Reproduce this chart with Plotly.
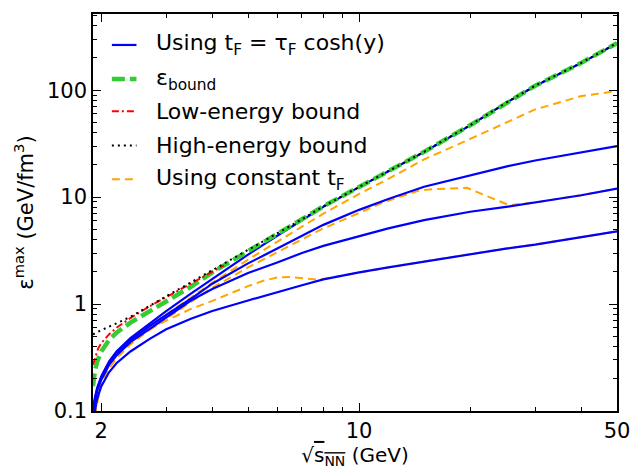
import numpy as np
import plotly.graph_objects as go

# Collision energy sqrt(s_NN) in GeV
x_grid = [1.9, 1.92, 1.95, 2.0, 2.1, 2.2, 2.4, 2.7, 3.0, 3.5, 4.0, 5.0, 6.0, 7.0,
          8.0, 10, 12, 15, 20, 25, 30, 40, 50]

# Combined energy-density bound
eps_bound = [0.17, 0.23, 0.29, 0.36, 0.46, 0.54, 0.67, 0.85, 1.06, 1.45, 1.98, 3.1,
             4.5, 6.2, 8.2, 12.5, 17.5, 26.5, 47, 76, 110, 180, 275]

# Low-energy bound
x_low = [1.9, 1.93, 1.96, 2.0, 2.1, 2.2, 2.4, 2.7, 3.0, 3.5, 4.0, 4.3]
eps_low = [0.27, 0.33, 0.38, 0.43, 0.52, 0.60, 0.74, 0.95, 1.16, 1.56, 2.0, 2.3]

# High-energy bound
x_high = [1.9, 2.0, 2.2, 2.4, 2.7, 3.0, 3.5, 4.0, 5.0, 6.0, 7.0, 8.0, 10, 12, 15,
          20, 25, 30, 40, 50]
eps_high = [0.52, 0.57, 0.66, 0.76, 0.96, 1.18, 1.6, 2.08, 3.2, 4.55, 6.2, 8.2,
            12.5, 17.5, 26.5, 47, 76, 110, 180, 275]

# t_F = tau_F cosh(y), four formation times
eps_cosh_1 = [0.10, 0.13, 0.165, 0.21, 0.29, 0.36, 0.48, 0.66, 0.86, 1.25, 1.72, 2.9,
              4.35, 6.05, 8.1, 12.4, 17.4, 26.4, 46.8, 75.8, 109.5, 179, 274]
eps_cosh_2 = [0.095, 0.125, 0.16, 0.205, 0.28, 0.345, 0.46, 0.62, 0.79, 1.12, 1.55,
              2.4, 3.3, 4.3, 5.5, 7.6, 9.6, 12.5, 16.0, 19.3, 22.0, 26.3, 30.0]
eps_cosh_3 = [0.09, 0.12, 0.155, 0.195, 0.27, 0.33, 0.44, 0.58, 0.74, 1.08, 1.38,
              1.95, 2.45, 3.0, 3.5, 4.3, 5.1, 6.1, 7.3, 8.1, 8.9, 10.4, 12.0]
eps_cosh_4 = [0.08, 0.10, 0.13, 0.17, 0.23, 0.28, 0.36, 0.47, 0.58, 0.73, 0.86, 1.08,
              1.3, 1.5, 1.7, 1.98, 2.2, 2.5, 2.95, 3.3, 3.6, 4.2, 4.78]

# Constant t_F
x_const_a = [1.92, 1.95, 2.0, 2.1, 2.2, 2.4, 2.7, 3.0, 3.5, 4.0, 5.0, 6.0, 7.0, 8.0,
             10, 12, 15, 20, 25, 30, 40, 50]
eps_const_a = [0.09, 0.13, 0.19, 0.27, 0.34, 0.46, 0.62, 0.80, 1.15, 1.58, 2.6, 3.85,
               5.3, 7.0, 10.7, 14.8, 22.5, 35, 50, 66, 88, 98]

x_const_b = [1.92, 1.95, 2.0, 2.1, 2.2, 2.4, 2.7, 3.0, 3.5, 4.0, 5.0, 6.0, 7.0, 8.0,
             10, 11.5, 14.5, 16, 19.6, 25.5, 30, 40, 50]
eps_const_b = [0.09, 0.12, 0.18, 0.25, 0.31, 0.42, 0.57, 0.73, 1.04, 1.42, 2.2, 3.05,
               4.0, 5.1, 7.1, 8.8, 11.5, 11.9, 12.2, 8.4, 8.9, 10.4, 12.0]

x_const_c = [1.93, 1.95, 2.0, 2.1, 2.2, 2.5, 3.0, 3.5, 4.0, 5.0, 5.5, 6.0, 6.5, 7.0,
             7.7, 8.5, 10, 12, 15, 20, 25, 30, 40, 50]
eps_const_c = [0.10, 0.14, 0.21, 0.29, 0.35, 0.50, 0.70, 0.90, 1.07, 1.47, 1.65, 1.77,
               1.79, 1.74, 1.69, 1.78, 1.98, 2.2, 2.5, 2.95, 3.3, 3.6, 4.2, 4.78]

# Legend entries: label, colour, width, dash
legend_labels = ["Using t<sub>F</sub> = τ<sub>F</sub> cosh(y)", "ε<sub>bound</sub>",
                 "Low-energy bound", "High-energy bound", "Using constant t<sub>F</sub>"]

FONT = "DejaVu Sans"
BLUE = "#0000ff"
ORANGE = "#ffa500"
GREEN = "#33cc33"
RED = "#ff0000"

STYLE_COSH = dict(color=BLUE, width=2.2, dash="solid")
STYLE_BOUND = dict(color=GREEN, width=4.5, dash="13px,5px")
STYLE_LOW = dict(color=RED, width=2, dash="7px,3px,2px,3px")
STYLE_HIGH = dict(color="black", width=2, dash="2px,4px")
STYLE_CONST = dict(color=ORANGE, width=2, dash="8px,5px")

fig = go.Figure()

# constant-t_F curves first so the solid lines sit on top of them
for xs, ys in [(x_const_a, eps_const_a), (x_const_b, eps_const_b),
               (x_const_c, eps_const_c)]:
    fig.add_trace(go.Scatter(x=xs, y=ys, mode="lines", line=STYLE_CONST,
                             name=legend_labels[4], showlegend=False))

for ys in [eps_cosh_4, eps_cosh_3, eps_cosh_2, eps_cosh_1]:
    fig.add_trace(go.Scatter(x=x_grid, y=ys, mode="lines", line=STYLE_COSH,
                             name=legend_labels[0], showlegend=False))

fig.add_trace(go.Scatter(x=x_grid, y=eps_bound, mode="lines", line=STYLE_BOUND,
                         name=legend_labels[1], showlegend=False))
fig.add_trace(go.Scatter(x=x_low, y=eps_low, mode="lines", line=STYLE_LOW,
                         name=legend_labels[2], showlegend=False))
fig.add_trace(go.Scatter(x=x_high, y=eps_high, mode="lines", line=STYLE_HIGH,
                         name=legend_labels[3], showlegend=False))

# Hand-placed legend in the upper-left corner of the axes
legend_styles = [STYLE_COSH, STYLE_BOUND, STYLE_LOW, STYLE_HIGH, STYLE_CONST]
legend_rows = [0.922, 0.836, 0.755, 0.669, 0.584]
for label, style, yrow in zip(legend_labels, legend_styles, legend_rows):
    fig.add_shape(type="line", xref="paper", yref="paper",
                  x0=0.036, x1=0.083, y0=yrow, y1=yrow, line=style)
    fig.add_annotation(xref="paper", yref="paper", x=0.116, y=yrow,
                       xanchor="left", yanchor="middle", showarrow=False,
                       text=label, font=dict(family=FONT, size=22, color="black"))

axis_common = dict(
    type="log", showline=True, linecolor="black", linewidth=1.5, mirror="ticks",
    ticks="inside", ticklen=8, tickwidth=1.2, tickcolor="black", showgrid=False,
    zeroline=False, tickfont=dict(family=FONT, size=21, color="black"),
)

fig.update_xaxes(
    **axis_common,
    range=[np.log10(1.9), np.log10(50)],
    tickvals=[2, 10, 50], ticktext=["2", "10", "50"],
    minor=dict(ticks="inside", ticklen=4, tickwidth=1, tickcolor="black",
               tickvals=[3, 4, 5, 6, 7, 8, 9, 20, 30, 40], showgrid=False),
    title=dict(text="√<span style='text-decoration:overline'>s<sub>NN</sub></span> (GeV)",
               font=dict(family=FONT, size=20, color="black"), standoff=2),
)

y_minor = [m * 10.0 ** e for e in (-1, 0, 1, 2) for m in range(2, 10) if m * 10.0 ** e < 520]
fig.update_yaxes(
    **axis_common,
    range=[-1, 2.712],
    tickvals=[0.1, 1, 10, 100], ticktext=["0.1", "1", "10", "100"],
    minor=dict(ticks="inside", ticklen=4, tickwidth=1, tickcolor="black",
               tickvals=y_minor, showgrid=False),
    title=dict(text="ε<sup>max</sup> (GeV/fm<sup>3</sup>)",
               font=dict(family=FONT, size=21, color="black"), standoff=8),
)

fig.update_layout(
    width=644, height=471,
    margin=dict(l=93, r=27, t=12, b=59),
    paper_bgcolor="white", plot_bgcolor="white",
    font=dict(family=FONT, size=21, color="black"),
    showlegend=False,
)

fig.write_html("out.html")
